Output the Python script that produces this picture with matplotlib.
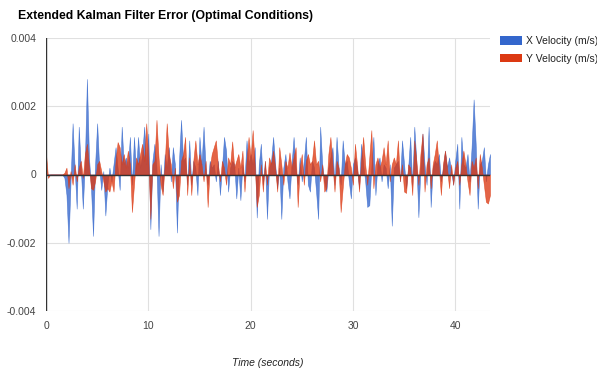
import matplotlib
matplotlib.use("Agg")
matplotlib.rcParams["font.family"] = ["Liberation Sans", "DejaVu Sans"]

import matplotlib.pyplot as plt
import matplotlib.patches as mpatches
import numpy as np

# ---------------------------------------------------------------------------
# Data: error samples every 0.2 s, in units of 1e-4 m/s
# ---------------------------------------------------------------------------
DT = 0.2
SCALE = 1e-4

X_ERR = [
    0, 0, 0, 0, 0, 0, 0, 0, 0, -1,                 # 0.0 - 1.8
    -6, -20, -2, 15, 2, -10, 14, 2, -10, 4,        # 2.0 - 3.8
    28, 5, -4, -18, 3, 15, 2, -4.5, 1, -12,        # 4.0 - 5.8
    -3, 2, -2, 3, 8, 2, -4.5, 14, 3, 5,            # 6.0 - 7.8
    2, 11, -3, 11, 1, 11, 2, 6, 14, 3,             # 8.0 - 9.8
    12, -16, 4, 9, 2, -18, 3, -5, 6, 2,            # 10.0 - 11.8
    8, -2, 8, 3, -17, 4, 16, 4, 5, -3,             # 12.0 - 13.8
    10, -3, 4, 2, -6, 11, 3, 14, 2, -3,            # 14.0 - 15.8
    4, 2, 3, -2, 4, -6, 2, 11, 7, -5,              # 16.0 - 17.8
    2, 4, 3, -7, 2, -7.5, 3, -2, 10, 3,            # 18.0 - 19.8
    6, 3, 8, -12.6, 3, 9, -3, 4, -13, 2,           # 20.0 - 21.8
    4, 11, 3, -4, 2, -13, 2, 6, -2, -7,            # 22.0 - 23.8
    3, 11, 2, -3, 5, -2, 4, 11, -3, -5,            # 24.0 - 25.8
    4, 2, -5, -13, 14, 3, -2, -5, 2, 5,            # 26.0 - 27.8
    8, -3, 11, 2, -3, 10, 3, 4, -2, -7,            # 28.0 - 29.8
    3, 5, 2, -4, 9, 3, -2, -9.5, -9, 2,            # 30.0 - 31.8
    11, -6, 3, 5, -2, 3, 2, -4, 3, -15,            # 32.0 - 33.8
    2, 3, 4, -2, 10, 3, -4, 2, 11, -3,             # 34.0 - 35.8
    14, 4, -12.5, 2, 12, 3, -3, 14, -9.5, 2,       # 36.0 - 37.8
    4, 3, 6, -2, 2, 7, 2, 5, 1, -3,                # 38.0 - 39.8
    4, 9, -10, 11, 3, 2, 6, -2, 8, 22,             # 40.0 - 41.8
    9, -10, 3, 4, 8, -2, 3, 6,                     # 42.0 - 43.4
]

Y_ERR = [
    6, -1, 0, 0, 0, 0, 0, 0, 0, 0.5,               # 0.0 - 1.8
    2, -4, 1, -3, 3, -2, 2, 4, -1, 6,              # 2.0 - 3.8
    9, 2, -4, -4.5, -2, 3, 4, 1, -2, -5,           # 4.0 - 5.8
    -4, -5, -2, -5, 4, 9.5, 8, 3, 6, 2,            # 6.0 - 7.8
    7, 3, -11, -3, 5, 3, 6, 9, 4, 15,              # 8.0 - 9.8
    5, -13, 3, 4, 16, 5, -3, -6, 3, 15,            # 10.0 - 11.8
    6, 3, -4, 2, -8, -6, 4, 6, 11, -6,             # 12.0 - 13.8
    5, -6, 4, 10, 3, 6, 3, -2, 4, -9.5,            # 14.0 - 15.8
    2, 6, 8, 10, 3, -2, 4, 2, -3, 5,               # 16.0 - 17.8
    3, 9.7, 2, 4, 6, 2, 7, -5, 4, 11,              # 18.0 - 19.8
    5, 13, 3, -9.5, -6, 3, -5, 4, -3, 5,           # 20.0 - 21.8
    3, 7, 2, -5, 8, 3, -3, 4, 2, 6.5,              # 22.0 - 23.8
    2, 5, 8, -9.5, 2, 6, -3, 4, 6, 3,              # 24.0 - 25.8
    4, 10, 3, 4, -2, 3, -5, -4, 6, 11,             # 26.0 - 27.8
    3, -5, 4, 2, -11, -4, 3, 6, 5, 2,              # 28.0 - 29.8
    -3, 9, 3, -5, 4, 11, 3, -3, 5, 13,             # 30.0 - 31.8
    -4, 3, 5, 2, 4, 8, 3, 10, -2, 3,               # 32.0 - 33.8
    5, 3, 10, -2, 3, -5, -5.4, 3, 2, -6,           # 34.0 - 35.8
    10, 4, -3, 6, 12, -5, 3, 5, -4, 3,             # 36.0 - 37.8
    6, 10, 2, -6, 3, 7, 2, -4, 3, -3,              # 38.0 - 39.8
    2, 4, -3, 3, 7, 3, -2, -6, 4, 2,               # 40.0 - 41.8
    5, -4, 6, 2, -3, -8, -8.5, -6,                 # 42.0 - 43.4
]

SERIES = ["X Velocity (m/s)", "Y Velocity (m/s)"]
Y_TICKS = [-0.004, -0.002, 0, 0.002, 0.004]
Y_TICK_LABELS = ["-0.004", "-0.002", "0", "0.002", "0.004"]
X_TICKS = [0, 10, 20, 30, 40]

x_err = np.array(X_ERR) * SCALE
y_err = np.array(Y_ERR) * SCALE
t = np.arange(len(x_err)) * DT

BLUE = "#3366cc"
RED = "#dc3912"

# ---------------------------------------------------------------------------
# Figure
# ---------------------------------------------------------------------------
fig = plt.figure(figsize=(5.97, 3.71), dpi=100)
ax = fig.add_axes([46 / 597, 1 - 311 / 371, (490 - 46) / 597, (311 - 38) / 371])

ax.fill_between(t, 0, x_err, color=BLUE, alpha=0.78, linewidth=0.4,
                edgecolor=BLUE, zorder=3)
ax.fill_between(t, 0, y_err, color=RED, alpha=0.78, linewidth=0.4,
                edgecolor=RED, zorder=4)

ax.set_xlim(0, t[-1])
ax.set_ylim(-0.004, 0.004)
ax.set_xticks(X_TICKS)
ax.set_yticks(Y_TICKS)
ax.set_yticklabels(Y_TICK_LABELS)

ax.grid(True, color="#e0e0e0", linewidth=0.8, zorder=0)
ax.set_axisbelow(True)
for s in ax.spines.values():
    s.set_visible(False)
ax.axhline(0, color="#333333", linewidth=1.0, zorder=5)
ax.axvline(0, color="#333333", linewidth=1.0, zorder=5)

ax.tick_params(axis="both", length=0, labelsize=7.5, labelcolor="#444444")
ax.tick_params(axis="x", pad=7)
ax.tick_params(axis="y", pad=7)

fig.text(18 / 597, 1 - 16 / 371,
         "Extended Kalman Filter Error (Optimal Conditions)",
         fontsize=8.8, fontweight="bold", color="#000000", va="center")
fig.text(268 / 597, 1 - 363 / 371, "Time (seconds)",
         fontsize=7.5, fontstyle="italic", color="#222222",
         ha="center", va="center")

handles = [mpatches.Patch(facecolor=BLUE, edgecolor="none", label=SERIES[0]),
           mpatches.Patch(facecolor=RED, edgecolor="none", label=SERIES[1])]
leg = fig.legend(handles=handles, loc="upper left",
                 bbox_to_anchor=(500 / 597, 1 - 36 / 371),
                 bbox_transform=fig.transFigure, frameon=False,
                 fontsize=7.5, handlelength=2.1, handleheight=0.85,
                 handletextpad=0.4, labelspacing=0.75,
                 borderpad=0, borderaxespad=0)
for txt in leg.get_texts():
    txt.set_color("#222222")

fig.savefig("out.png", dpi=100)
